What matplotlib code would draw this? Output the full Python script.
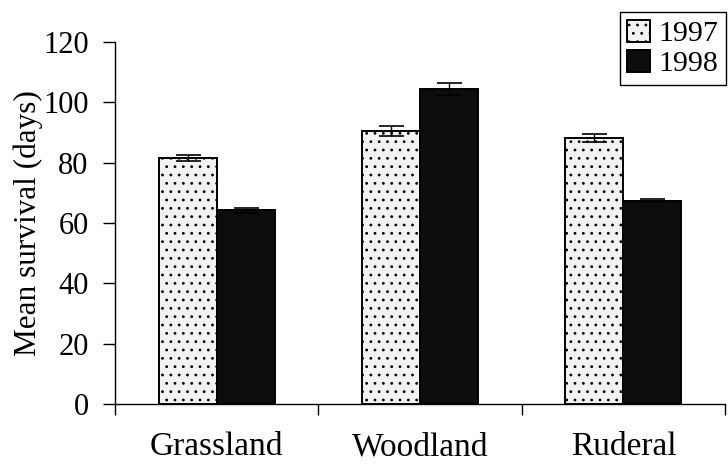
import numpy as np
from matplotlib import pyplot as plt

# values
habitats = ['Grassland', 'Woodland', 'Ruderal']
years = ['1997', '1998']
survival_1997 = [81.7, 90.5, 88.3]
survival_1998 = [64.2, 104.5, 67.3]
err_1997 = [1.0, 1.5, 1.3]
err_1998 = [0.9, 2.0, 0.5]
y_ticks = [0, 20, 40, 60, 80, 100, 120]

plt.rcParams['font.family'] = ['Liberation Serif', 'DejaVu Serif']
plt.rcParams['hatch.color'] = '#a8a8a8'
plt.rcParams['hatch.linewidth'] = 0.8

fig = plt.figure(figsize=(7.28, 4.69), dpi=100)
ax = fig.add_axes([0.158, 0.1386, 0.838, 0.7718])

x = np.arange(len(habitats))
width = 0.285
err_style = dict(ecolor='black', elinewidth=1.0, capsize=9, capthick=1.2)

ax.bar(x - width / 2, survival_1997, width, yerr=err_1997, color='#f2f2f2',
       edgecolor='black', linewidth=1.4, hatch='..', label=years[0],
       error_kw=err_style)
ax.bar(x + width / 2, survival_1998, width, yerr=err_1998, color='#0d0d0d',
       edgecolor='black', linewidth=1.4, label=years[1], error_kw=err_style)

ax.set_xlim(-0.5, len(habitats) - 0.5)
ax.set_ylim(0, 120)
ax.set_yticks(y_ticks)
ax.tick_params(axis='y', labelsize=22, length=9, width=1.0, direction='out', pad=10)

# category names centred, boundary ticks as minor ticks
ax.set_xticks(x)
ax.set_xticklabels(habitats, fontsize=24)
ax.set_xticks(np.arange(len(habitats) + 1) - 0.5, minor=True)
ax.tick_params(axis='x', which='major', length=0, pad=20)
ax.tick_params(axis='x', which='minor', length=8, width=1.0, direction='out')

ax.spines['top'].set_visible(False)
ax.spines['right'].set_visible(False)
ax.spines['left'].set_linewidth(1.0)
ax.spines['bottom'].set_linewidth(1.0)

ax.set_ylabel('Mean survival (days)', fontsize=22.5, labelpad=0)

leg = fig.legend(loc='upper left', bbox_to_anchor=(0.8516, 0.974),
                 fontsize=21.5, fancybox=False, edgecolor='black',
                 handlelength=0.75, handleheight=0.75, handletextpad=0.3,
                 borderpad=0.25, labelspacing=0.1, borderaxespad=0,
                 framealpha=1)
leg.get_frame().set_linewidth(1.0)

fig.savefig('out.png', dpi=100)
